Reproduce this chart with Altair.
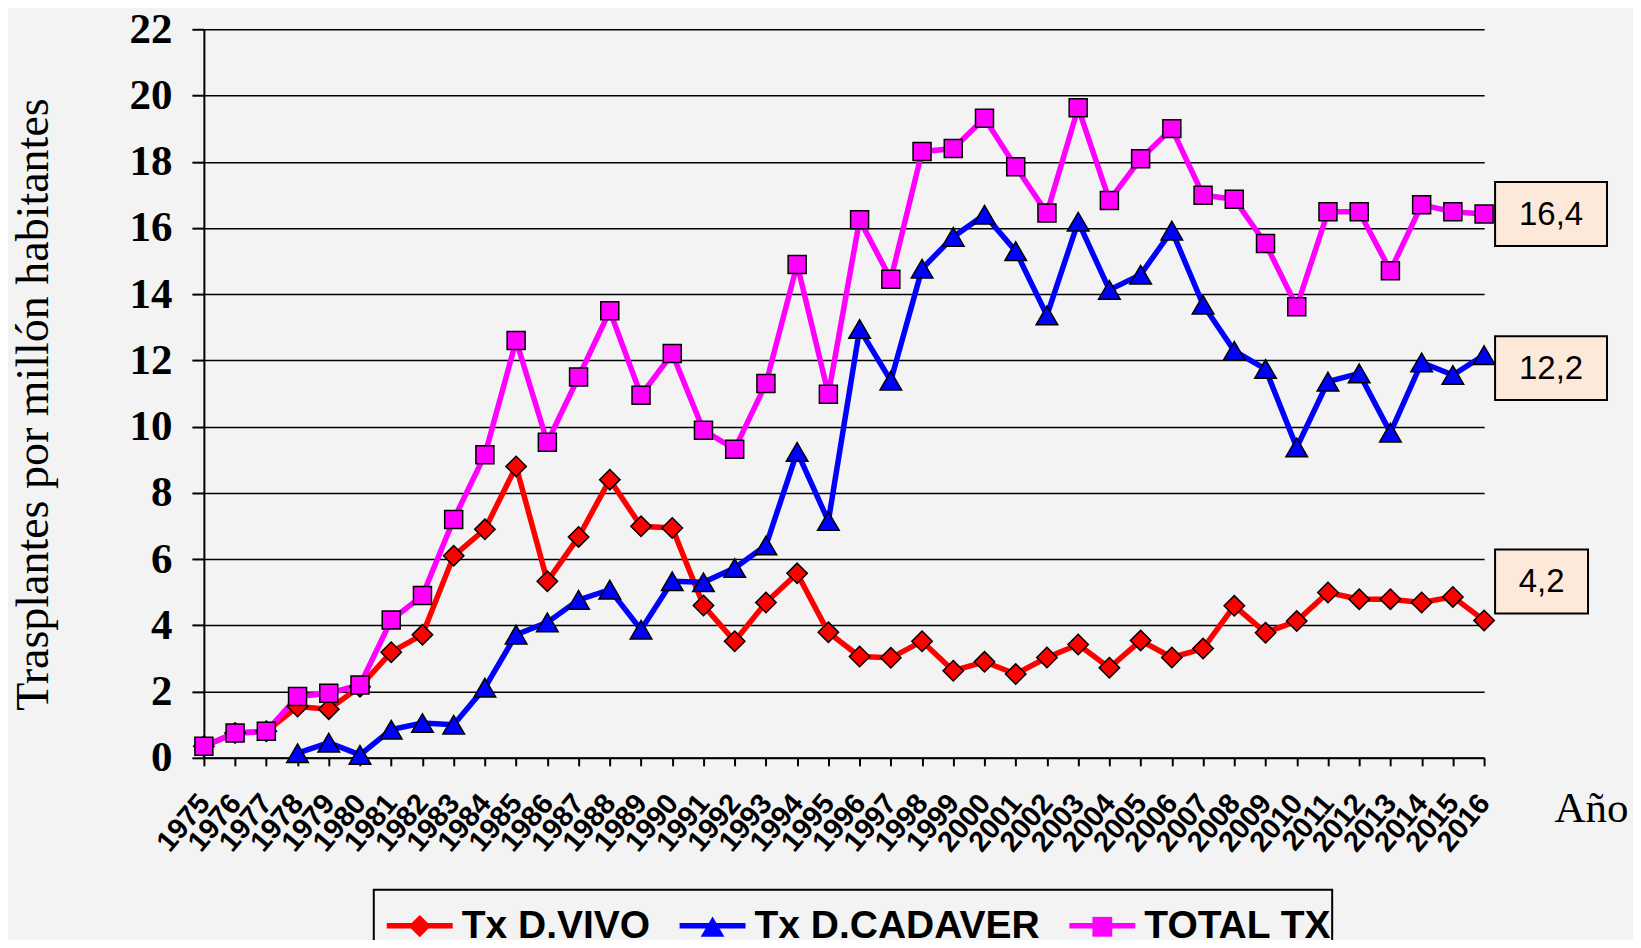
import json
import altair as alt
import pandas as pd

years = list(range(1975, 2017))
series_names = ["Tx D.VIVO", "Tx D.CADAVER", "TOTAL TX"]
vivo = [0.35, 0.75, 0.8, 1.55, 1.47, 2.15, 3.19, 3.72, 6.1, 6.9, 8.8,
        5.33, 6.67, 8.4, 6.99, 6.94, 4.6, 3.52, 4.69, 5.57, 3.79,
        3.06, 3.02, 3.52, 2.63, 2.9, 2.53, 3.03, 3.42, 2.72, 3.54,
        3.03, 3.3, 4.59, 3.78, 4.13, 4.99, 4.79, 4.79, 4.69, 4.86, 4.15]
cadaver = [None, None, None, 0.14, 0.46, 0.09, 0.85, 1.05, 1.0, 2.12, 3.72,
           4.09, 4.77, 5.08, 3.87, 5.33, 5.3, 5.73, 6.41, 9.24, 7.15,
           12.95, 11.39, 14.77, 15.73, 16.4, 15.3, 13.36, 16.19, 14.13, 14.59,
           15.92, 13.68, 12.29, 11.74, 9.37, 11.36, 11.61, 9.82, 11.94, 11.56, 12.16]
total = [0.35, 0.75, 0.8, 1.85, 1.95, 2.2, 4.16, 4.9, 7.2, 9.15, 12.6,
         9.53, 11.5, 13.5, 10.95, 12.21, 9.89, 9.32, 11.3, 14.9, 10.98,
         16.25, 14.45, 18.31, 18.4, 19.31, 17.85, 16.45, 19.63, 16.83, 18.09,
         19.0, 16.99, 16.87, 15.53, 13.62, 16.49, 16.49, 14.71, 16.7, 16.49, 16.42]
end_labels = ["4,2", "12,2", "16,4"]
y_ticks = list(range(0, 23, 2))

colors = ["#FF0000", "#0000FF", "#FF00FF"]
shape_paths = [
    "M0,-0.34L0.34,0L0,0.34L-0.34,0Z",
    "M0,-0.31L0.36,0.31L-0.36,0.31Z",
    "M-0.3,-0.3L0.3,-0.3L0.3,0.3L-0.3,0.3Z",
]

rows = []
for k, (name, vals) in enumerate(zip(series_names, [vivo, cadaver, total])):
    for yr, v in zip(years, vals):
        if v is not None:
            rows.append({"year": yr, "value": v, "k": k, "serie": name})
df = pd.DataFrame(rows)

ann = pd.DataFrame({
    "year": [years[-1]] * 3,
    "value": [vivo[-1], cadaver[-1], total[-1]],
    "serie": series_names,
    "label": end_labels,
})

x_scale = alt.Scale(domain=[1975, 2016], nice=False, zero=False)
y_scale = alt.Scale(domain=[0, 22], nice=False)

x_axis = alt.Axis(values=years, format="d", labelAngle=310, labelAlign="right",
                  labelBaseline="middle", labelFont="Liberation Sans",
                  labelFontWeight="bold", labelFontSize=29, labelPadding=32,
                  labelOverlap=False, labelFlush=False, labelColor="black",
                  tickSize=8, tickWidth=2, tickColor="black",
                  domainColor="black", domainWidth=2, grid=False,
                  title="Año", titleFont="Liberation Serif", titleFontWeight="normal",
                  titleFontSize=43, titleX=1351, titleY=64, titleAlign="left",
                  titleBaseline="alphabetic", titleColor="black")
y_axis = alt.Axis(values=y_ticks, labelFont="Liberation Serif", labelFontWeight="bold",
                  labelFontSize=43, labelPadding=20, labelColor="black",
                  tickSize=12, tickWidth=2, tickColor="black",
                  domainColor="black", domainWidth=2,
                  grid=True, gridColor="black", gridWidth=1.5, gridOpacity=1,
                  title="Trasplantes por millón habitantes", titleFont="Liberation Serif",
                  titleFontWeight="normal", titleFontSize=46, titleAngle=270,
                  titleX=-170, titleY=375, titleAlign="center", titleBaseline="middle",
                  titleColor="black")

X = alt.X("year:Q", scale=x_scale, axis=x_axis)
Y = alt.Y("value:Q", scale=y_scale, axis=y_axis)

label_expr = json.dumps(series_names) + "[toNumber(datum.value)]"
leg_common = dict(orient="none", legendX=170, legendY=861, direction="horizontal",
                  title=None, symbolSize=4356, symbolStrokeWidth=5.5, symbolOffset=10,
                  padding=0, labelFont="Liberation Sans", labelFontWeight="bold",
                  labelFontSize=39, labelColor="black", labelOffset=6,
                  columnPadding=16, labelLimit=600)
legA = alt.Legend(symbolType="stroke", strokeColor="black", labelExpr=label_expr, **leg_common)
legB = alt.Legend(labelOpacity=0, symbolStrokeColor="black", **leg_common)

lines = alt.Chart(df).mark_line(strokeWidth=5.5).encode(
    x=X, y=Y,
    stroke=alt.Stroke("k:N", scale=alt.Scale(domain=[0, 1, 2], range=colors), legend=legA),
)
points = alt.Chart(df).mark_point(filled=True, size=3600, stroke="black", strokeWidth=1.5, opacity=1).encode(
    x=X, y=Y,
    fill=alt.Fill("serie:N", scale=alt.Scale(domain=series_names, range=colors), legend=legB),
    shape=alt.Shape("serie:N", scale=alt.Scale(domain=series_names, range=shape_paths), legend=legB),
)

layers = [lines, points]
box_specs = {"Tx D.VIVO": (-39, 93), "Tx D.CADAVER": (13, 112), "TOTAL TX": (0, 112)}
for name in series_names:
    dy, w = box_specs[name]
    base = alt.Chart(ann).transform_filter(alt.datum.serie == name)
    rect = base.mark_rect(fill="#FDE9D9", stroke="black", strokeWidth=2,
                          xOffset=11, x2Offset=11 + w, yOffset=dy - 32, y2Offset=dy + 32).encode(
        x=X, x2="year:Q", y=Y, y2="value:Q")
    txt = base.mark_text(font="Liberation Sans", fontSize=33, color="black", align="center",
                         baseline="middle", dx=11 + w / 2, dy=dy + 1).encode(
        x=X, y=Y, text="label:N")
    layers += [rect, txt]

chart = alt.layer(*layers).properties(
    width=1281, height=729,
    padding={"left": 196, "top": 21, "right": 149, "bottom": 182},
    autosize=alt.AutoSizeParams(type="none"),
    background="#F3F3F4",
).configure_view(stroke=None).configure_legend(strokeWidth=2)

chart.save("out.html", embed_options={"renderer": "svg", "actions": False})
